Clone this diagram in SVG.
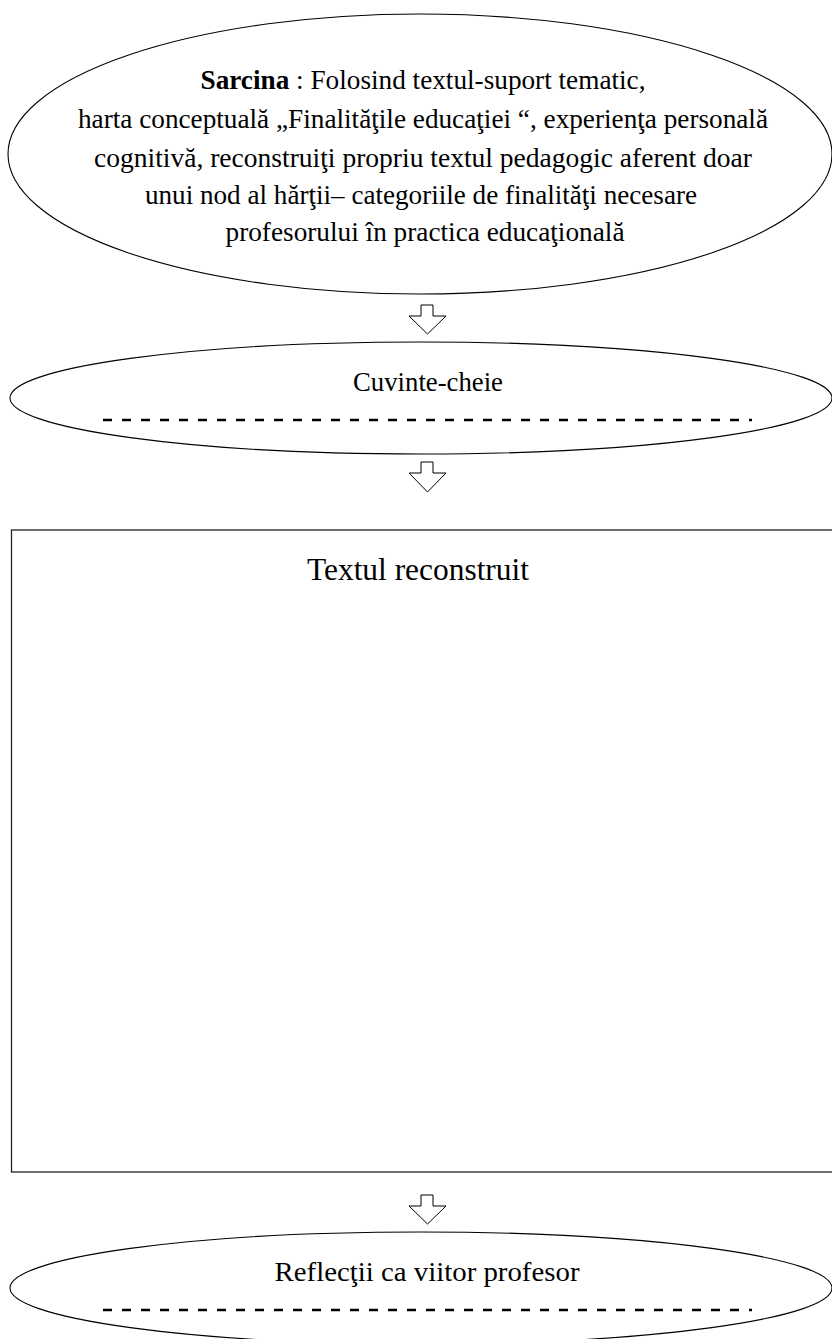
<svg xmlns="http://www.w3.org/2000/svg" width="832" height="1339" viewBox="0 0 832 1339">
<style>
.shape{fill:none;stroke:#000;stroke-width:1.1}
.rect{fill:none;stroke:#222;stroke-width:1.3}
.arrow{fill:#fff;stroke:#000;stroke-width:1}
.dash{stroke:#000;stroke-width:2.5;stroke-dasharray:9 10}
.t{font-family:"Liberation Serif","Times New Roman",serif;fill:#000;text-anchor:middle}
</style>
<rect width="832" height="1339" fill="#fff"/>
<g id="sarcina">
<ellipse class="shape" cx="420" cy="154" rx="412" ry="140"/>
<text class="t" font-size="28" x="423" y="89" textLength="445" lengthAdjust="spacingAndGlyphs"><tspan font-weight="bold">Sarcina</tspan> : Folosind  textul-suport  tematic,</text>
<text class="t" font-size="28" x="423" y="128" textLength="690" lengthAdjust="spacingAndGlyphs">harta  conceptuală  „Finalităţile educaţiei “, experienţa  personală</text>
<text class="t" font-size="28" x="423" y="167" textLength="658" lengthAdjust="spacingAndGlyphs">cognitivă, reconstruiţi  propriu  textul pedagogic  aferent  doar</text>
<text class="t" font-size="28" x="421" y="204" textLength="552" lengthAdjust="spacingAndGlyphs">unui nod  al hărţii– categoriile  de  finalităţi  necesare</text>
<text class="t" font-size="28" x="425" y="241" textLength="399" lengthAdjust="spacingAndGlyphs">profesorului  în practica  educaţională</text>
</g>
<g id="cuvinte">
<ellipse class="shape" cx="421" cy="398" rx="411" ry="56"/>
<text class="t" font-size="28" x="428" y="391" textLength="150" lengthAdjust="spacingAndGlyphs">Cuvinte-cheie</text>
<line class="dash" x1="103" y1="420" x2="752" y2="420"/>
</g>
<g id="textul">
<rect class="rect" x="11.5" y="530" width="840" height="642"/>
<text class="t" font-size="31" x="418" y="580" textLength="222" lengthAdjust="spacingAndGlyphs">Textul  reconstruit</text>
</g>
<g id="reflectii">
<ellipse class="shape" cx="421" cy="1288" rx="411" ry="56"/>
<text class="t" font-size="28" x="427" y="1281" textLength="305" lengthAdjust="spacingAndGlyphs">Reflecţii ca  viitor profesor</text>
<line class="dash" x1="103" y1="1310" x2="752" y2="1310"/>
</g>
<g id="connectors">
<polygon class="arrow" points="421,305 433,305 433,316 446,316 427.5,334 409,316 421,316"/>
<polygon class="arrow" points="421,462 433,462 433,473 446,473 427.5,492 409,473 421,473"/>
<polygon class="arrow" points="421,1195 433,1195 433,1206 446,1206 427.5,1224 409,1206 421,1206"/>
</g>
</svg>
